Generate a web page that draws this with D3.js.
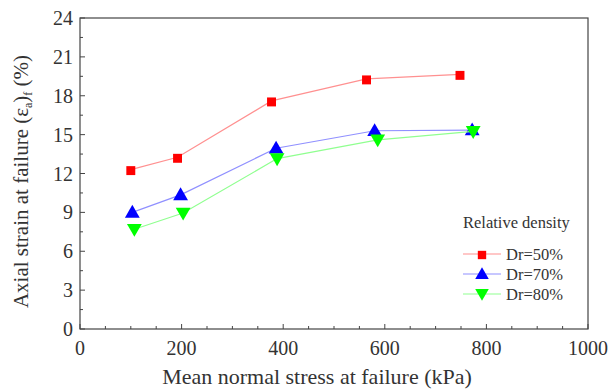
<!DOCTYPE html>
<html>
<head>
<meta charset="utf-8">
<script src="https://cdn.jsdelivr.net/npm/d3@7"></script>
<style>
  body { margin: 0; background: #fff; }
  text { font-family: "Liberation Serif", "Times New Roman", serif; fill: #333; }
</style>
</head>
<body>
<div id="chart"></div>
<script>
// data
const stress50 = [100, 192, 377, 564, 748];
const strain50 = [12.3, 13.25, 17.6, 19.3, 19.65];
const stress70 = [103, 198, 386, 580, 772];
const strain70 = [9.0, 10.35, 13.95, 15.3, 15.35];
const stress80 = [107, 203, 388, 586, 774];
const strain80 = [7.7, 8.95, 13.15, 14.6, 15.25];
const seriesNames = ["Dr=50%", "Dr=70%", "Dr=80%"];
const xTicks = [0, 200, 400, 600, 800, 1000];
const yTicks = [0, 3, 6, 9, 12, 15, 18, 21, 24];

const width = 611, height = 389;
const margin = { left: 80, right: 23, top: 18, bottom: 60 };

const svg = d3.select("#chart").append("svg")
    .attr("width", width)
    .attr("height", height);

const x = d3.scaleLinear().domain([0, 1000]).range([margin.left, width - margin.right]);
const y = d3.scaleLinear().domain([0, 24]).range([height - margin.bottom, margin.top]);

// frame
svg.append("rect")
    .attr("x", x(0)).attr("y", y(24))
    .attr("width", x(1000) - x(0)).attr("height", y(0) - y(24))
    .attr("fill", "none").attr("stroke", "#444").attr("stroke-width", 1.2);

// inward ticks, major and minor
const tickG = svg.append("g").attr("stroke", "#444").attr("stroke-width", 1);
d3.range(0, 1001, 50).forEach(v => {
    const len = v % 200 === 0 ? 5 : 3;
    tickG.append("line").attr("x1", x(v)).attr("x2", x(v)).attr("y1", y(0)).attr("y2", y(0) - len);
});
d3.range(0, 24.1, 1.5).forEach(v => {
    const len = v % 3 === 0 ? 5 : 3;
    tickG.append("line").attr("x1", x(0)).attr("x2", x(0) + len).attr("y1", y(v)).attr("y2", y(v));
});

// tick labels
svg.append("g").selectAll("text").data(xTicks).join("text")
    .attr("x", d => x(d)).attr("y", y(0) + 26)
    .attr("text-anchor", "middle").style("font-size", "20px")
    .text(d => d);
svg.append("g").selectAll("text").data(yTicks).join("text")
    .attr("x", x(0) - 7).attr("y", d => y(d) + 7)
    .attr("text-anchor", "end").style("font-size", "20px")
    .text(d => d);

// axis titles
svg.append("text")
    .attr("x", (x(0) + x(1000)) / 2 - 17).attr("y", height - 5)
    .attr("text-anchor", "middle").style("font-size", "22px")
    .text("Mean normal stress at failure (kPa)");

const yt = svg.append("text")
    .attr("transform", `translate(28,${(y(0) + y(24)) / 2 + 8}) rotate(-90)`)
    .attr("text-anchor", "middle").style("font-size", "21px");
yt.append("tspan").text("Axial strain at failure (ε");
yt.append("tspan").attr("dy", 4).style("font-size", "12px").text("a");
yt.append("tspan").attr("dy", -4).text(")");
yt.append("tspan").attr("dy", 4).style("font-size", "12px").text("f");
yt.append("tspan").attr("dy", -4).text(" (%)");

// series
const series = [
    { name: seriesNames[0], xs: stress50, ys: strain50, line: "#ff9090", fill: "#ff0000", sym: d3.symbolSquare, rot: 0 },
    { name: seriesNames[1], xs: stress70, ys: strain70, line: "#9090ff", fill: "#0000ff", sym: d3.symbolTriangle, rot: 0 },
    { name: seriesNames[2], xs: stress80, ys: strain80, line: "#90ff90", fill: "#00ff00", sym: d3.symbolTriangle, rot: 180 }
];

const line = d3.line().x(d => x(d[0])).y(d => y(d[1]));

series.forEach(s => {
    const pts = s.xs.map((v, i) => [v, s.ys[i]]);
    svg.append("path").datum(pts)
        .attr("d", line).attr("fill", "none")
        .attr("stroke", s.line).attr("stroke-width", 1.2);
    svg.append("g").selectAll("path").data(pts).join("path")
        .attr("d", d3.symbol().type(s.sym).size(s.sym === d3.symbolSquare ? 80 : 95))
        .attr("transform", d => `translate(${x(d[0])},${y(d[1]) + (s.rot ? -1 : 1)}) rotate(${s.rot})`)
        .attr("fill", s.fill);
});

// legend
const lg = svg.append("g").attr("transform", "translate(463,0)");
lg.append("text").attr("x", 0).attr("y", 228).style("font-size", "16.5px").text("Relative density");
series.forEach((s, i) => {
    const cy = 254 + i * 20;
    lg.append("line").attr("x1", 0).attr("x2", 38).attr("y1", cy).attr("y2", cy)
        .attr("stroke", s.line).attr("stroke-width", 1.2);
    lg.append("path")
        .attr("d", d3.symbol().type(s.sym).size(s.sym === d3.symbolSquare ? 70 : 80))
        .attr("transform", `translate(19,${cy + (s.rot ? -1 : 1)}) rotate(${s.rot})`)
        .attr("fill", s.fill);
    lg.append("text").attr("x", 43).attr("y", cy + 6).style("font-size", "16.5px").text(s.name);
});
</script>
</body>
</html>
